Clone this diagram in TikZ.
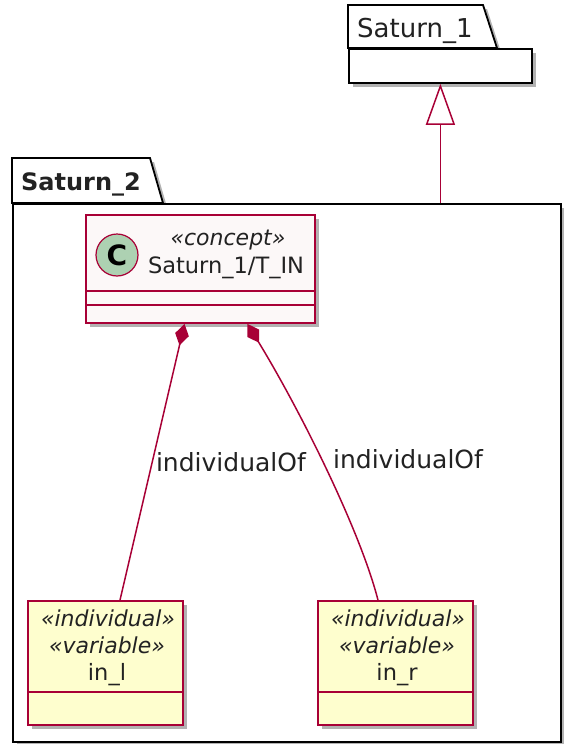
\documentclass[tikz,border=0pt]{standalone}
\usepackage{fontspec}
\setmainfont{DejaVu Sans}
\usetikzlibrary{arrows.meta,shadows,calc}
\definecolor{umlred}{HTML}{A80036}
\definecolor{umlyellow}{HTML}{FEFECE}
\definecolor{umlpink}{HTML}{FCF8F8}
\definecolor{umlgreen}{HTML}{ADD1B2}
\definecolor{umltext}{HTML}{222222}
\tikzset{
  shade box/.style={drop shadow={shadow xshift=4pt,shadow yshift=-4pt,opacity=0.3,fill=black}},
  pkg/.style={draw=black,line width=1.8pt,fill=white},
  classbox/.style={rectangle,draw=umlred,line width=1.8pt,inner sep=0pt,shade box},
  sepline/.style={umlred,line width=1.8pt},
  txt/.style={text=umltext,inner sep=0pt,font=\fontsize{22.5}{26}\selectfont},
  stereo/.style={txt,font=\fontsize{22}{26}\selectfont\itshape},
  linklabel/.style={txt,inner sep=3pt,font=\fontsize{25}{28}\selectfont},
  assoc/.style={umlred,line width=1.5pt,{Diamond[length=22pt,width=14pt]}-},
  genarrow/.style={umlred,line width=1.5pt,-{Triangle[length=41pt,width=29pt,fill=white]}}
}
\begin{document}
\begin{tikzpicture}[x=1pt,y=-1pt]
    \useasboundingbox (0,0) rectangle (564,744);

    % Draw packages
    \draw[pkg,shade box] (12,203) -- (12,158) -- (150,158) -- (163,203) -- cycle;
    \node[pkg,shade box,inner sep=0pt,anchor=north west,
          minimum width=548pt,minimum height=538pt] (sat2) at (12,203) {};
    \node[txt,anchor=base west,font=\fontsize{24}{28}\selectfont\bfseries] (sat2title) at (21,190) {Saturn\_2};

    \draw[pkg,shade box] (348,48) -- (348,5) -- (483,5) -- (497,48) -- cycle;
    \node[pkg,shade box,inner sep=0pt,anchor=north west,
          minimum width=183pt,minimum height=34pt] (sat1) at (348,48) {};
    \node[txt,anchor=base west,font=\fontsize{26}{30}\selectfont] (sat1title) at (357,37) {Saturn\_1};

    \draw[genarrow] (sat2.north -| sat1.south) -- (sat1.south);

    % concept class
    \node[classbox,fill=umlpink,minimum width=229pt,minimum height=108pt] (tin) at (200.5,269) {};
    \draw[sepline] ($(tin.north west)+(0,77)$) -- ($(tin.north east)+(0,77)$);
    \draw[sepline] ($(tin.north west)+(0,91)$) -- ($(tin.north east)+(0,91)$);
    \node[circle,draw=umlred,line width=1.2pt,fill=umlgreen,minimum size=42pt,inner sep=0pt,
          font=\fontsize{28}{28}\selectfont\bfseries] (tinC) at (117,255) {C};
    \node[stereo] (tinst) at (228,240) {«concept»};
    \node[txt] (tinname) at (226,268) {Saturn\_1/T\_IN};

    % individuals
    \node[classbox,fill=umlyellow,minimum width=155pt,minimum height=124pt] (inl) at (105.5,663) {};
    \draw[sepline] ($(inl.north west)+(0,92)$) -- ($(inl.north east)+(0,92)$);
    \node[stereo] (inlst1) at (108,618) {«individual»};
    \node[stereo] (inlst2) at (107,645) {«variable»};
    \node[txt] (inlname) at (107,675) {in\_l};

    \node[classbox,fill=umlyellow,minimum width=155pt,minimum height=124pt] (inr) at (395.5,663) {};
    \draw[sepline] ($(inr.north west)+(0,92)$) -- ($(inr.north east)+(0,92)$);
    \node[stereo] (inrst1) at (398,618) {«individual»};
    \node[stereo] (inrst2) at (397,645) {«variable»};
    \node[txt] (inrname) at (397,675) {in\_r};

    % links
    \draw[assoc] ([xshift=-16pt]tin.south) -- node[linklabel,anchor=west,pos=0.5] {individualOf}
        ([xshift=14.5pt]inl.north);
    \draw[assoc] ([xshift=47pt]tin.south) .. controls (300,410) and (360,530) ..
        node[linklabel,anchor=west,pos=0.47,xshift=8pt] {individualOf} ([xshift=-17.5pt]inr.north);

\end{tikzpicture}
\end{document}
